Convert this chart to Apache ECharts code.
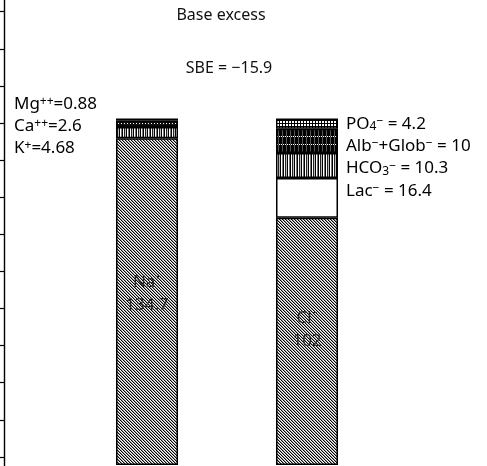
<!DOCTYPE html>
<html>
<head>
<meta charset="utf-8">
<script src="https://cdn.jsdelivr.net/npm/echarts@6/dist/echarts.min.js"></script>
<style>
  html, body { margin: 0; padding: 0; background: #fff; }
  #chart { width: 487px; height: 466px; }
</style>
</head>
<body>
<div id="chart"></div>
<script>
// columns
const columns = ["Cations", "Anions"];
// stacked from bottom to top; names use rich tags for super/subscripts
const cationNames = ["Na{sup|+}", "K{sup|+}", "Ca{sup|++}", "Mg{sup|++}"];
const cationPlain = ["Na⁺", "K⁺", "Ca⁺⁺", "Mg⁺⁺"];
const cationValues = [134.7, 4.68, 2.6, 0.88];
const anionNames = ["Cl{sup|−}", "Lac{sup|−}", "HCO{sub|3}{sup|−}", "Alb{sup|−}+Glob{sup|−}", "PO{sub|4}{sup|−}"];
const anionPlain = ["Cl⁻", "Lac⁻", "HCO₃⁻", "Alb⁻+Glob⁻", "PO₄⁻"];
const anionValues = [102, 16.4, 10.3, 10, 4.2];
// frame ticks on the left edge
const frameTicks = [0, 10, 20, 30, 40, 50, 60, 70, 80, 90, 100, 110, 120];
const titleText = "Base excess";
const sbeText = "SBE = −15.9";

// small pixel patterns to mimic the hatching of the print
function makePattern(w, h, fn) {
  const c = document.createElement("canvas");
  c.width = w;
  c.height = h;
  const ctx = c.getContext("2d");
  for (let y = 0; y < h; y++) {
    for (let x = 0; x < w; x++) {
      ctx.fillStyle = fn(x, y);
      ctx.fillRect(x, y, 1, 1);
    }
  }
  return { image: c, repeat: "repeat" };
}

const hatch = makePattern(6, 6, (x, y) => {
  const m = (((x - y) % 3) + 3) % 3;
  return m === 0 ? "#000" : m === 1 ? "#9a9a9a" : "#fff";
});
const stripes = makePattern(7, 4, (x) =>
  ["#000", "#fff", "#777", "#000", "#fff", "#222", "#bbb"][x]
);
const blackDots = makePattern(3, 3, (x, y) =>
  y === 0 && x === 1 ? "#fff" : "#111"
);
const darkStripes = makePattern(4, 8, (x, y) => {
  if (y === 0) return x % 2 ? "#fff" : "#222";
  return x === 2 ? "#555" : "#000";
});
const checker = makePattern(3, 3, (x, y) =>
  x === 0 || y === 0 ? "#000" : "#fff"
);
const plain = "#fff";

const cationFills = [hatch, stripes, blackDots, blackDots];
const anionFills = [hatch, plain, stripes, darkStripes, checker];

const FONT = "Noto Sans";
const rich = (size) => ({
  n: { fontFamily: FONT, fontSize: size, color: "#111" },
  sup: { fontFamily: FONT, fontSize: Math.round(size * 0.68), color: "#111", verticalAlign: "top" },
  sub: { fontFamily: FONT, fontSize: Math.round(size * 0.68), color: "#111", verticalAlign: "bottom" },
});

const layers = Math.max(cationValues.length, anionValues.length);
const series = [];
for (let i = 0; i < layers; i++) {
  const item = (names, values, fills) => {
    if (i >= values.length) return "-";
    return {
      name: names[i],
      value: values[i],
      itemStyle: { color: fills[i] },
    };
  };
  const data = [
    item(cationPlain, cationValues, cationFills),
    item(anionPlain, anionValues, anionFills),
  ];
  if (i === 0) {
    data[0].label = { show: true, offset: [0, -8] };
    data[1].label = { show: true, offset: [0, -12] };
  }
  series.push({
    type: "bar",
    stack: "total",
    yAxisIndex: 1,
    barWidth: 62,
    animation: false,
    itemStyle: { borderColor: "#000", borderWidth: 1.5 },
    label: {
      show: false,
      position: "inside",
      formatter: (p) => p.name + "\n" + p.value,
      fontFamily: FONT,
      fontSize: 17,
      lineHeight: 23,
      color: "#262626",
      textBorderWidth: 0,
      textBorderColor: "transparent",
    },
    data: data,
  });
}

const graphic = [
  { type: "text", x: 221, y: 15, style: { text: titleText, fontFamily: FONT, fontSize: 16, fill: "#111", align: "center", verticalAlign: "middle" } },
  { type: "text", x: 229, y: 68, style: { text: sbeText, fontFamily: FONT, fontSize: 16, fill: "#111", align: "center", verticalAlign: "middle" } },
];
// cation list reads top-down: Mg, Ca, K
[3, 2, 1].forEach((k, row) => {
  const txt = cationNames[k].replace(/(^|\})([^{}]+)(?=\{|$)/g, "$1{n|$2}") + "{n|=" + cationValues[k] + "}";
  graphic.push({
    type: "text", x: 14, y: 104 + row * 22,
    style: { text: txt, rich: rich(17), fontFamily: FONT, fontSize: 17, align: "left", verticalAlign: "middle" },
  });
});
// anion list reads top-down: PO4, Alb, HCO3, Lac
[4, 3, 2, 1].forEach((k, row) => {
  const txt = anionNames[k].replace(/(^|\})([^{}]+)(?=\{|$)/g, "$1{n|$2}") + "{n| = " + anionValues[k] + "}";
  graphic.push({
    type: "text", x: 346, y: 124 + row * 22.3,
    style: { text: txt, rich: rich(17), fontFamily: FONT, fontSize: 17, align: "left", verticalAlign: "middle" },
  });
});

const chart = echarts.init(document.getElementById("chart"), null, { renderer: "canvas" });
chart.setOption({
  backgroundColor: "#fff",
  animation: false,
  grid: { left: 67, right: 100, top: 0, bottom: 0 },
  graphic: graphic,
  xAxis: {
    type: "category",
    data: columns,
    show: false,
  },
  yAxis: [
    {
      // plain frame axis with outward ticks
      type: "value",
      min: -2.45,
      max: 123.15,
      offset: 63,
      axisLine: { show: true, lineStyle: { color: "#000", width: 1.4 } },
      axisTick: { show: true, length: 4, customValues: frameTicks, lineStyle: { color: "#000", width: 1.2 } },
      axisLabel: { show: false },
      splitLine: { show: false },
    },
    {
      type: "value",
      min: -0.41,
      max: 191.75,
      show: false,
      splitLine: { show: false },
    },
  ],
  series: series,
});
</script>
</body>
</html>
